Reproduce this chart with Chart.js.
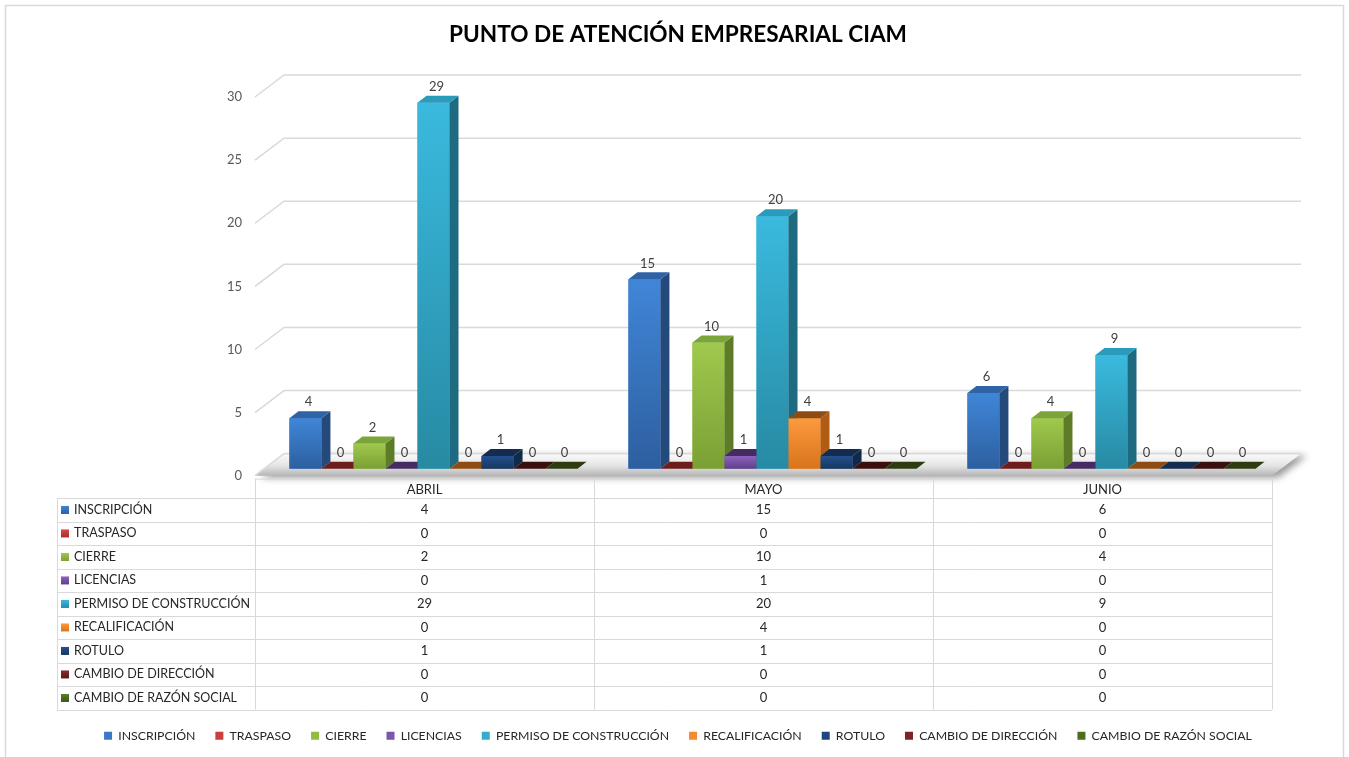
<!DOCTYPE html>
<html>
<head>
<meta charset="utf-8">
<title>Punto de Atención Empresarial CIAM</title>
<script src="https://cdn.jsdelivr.net/npm/chart.js@4.4.1/dist/chart.umd.min.js"></script>
<style>
  html, body { margin: 0; padding: 0; background: #ffffff; }
  #wrap { width: 1349px; height: 757px; }
</style>
</head>
<body>
<div id="wrap"><canvas id="ciamChart" width="1349" height="757"></canvas></div>
<script>
// ==========================
// Data
// ==========================

const months = ["ABRIL", "MAYO", "JUNIO"];

const tramites = [
  "INSCRIPCIÓN",
  "TRASPASO",
  "CIERRE",
  "LICENCIAS",
  "PERMISO DE CONSTRUCCIÓN",
  "RECALIFICACIÓN",
  "ROTULO",
  "CAMBIO DE DIRECCIÓN",
  "CAMBIO DE RAZÓN SOCIAL",
];

const inscripcion = [4, 15, 6];
const traspaso = [0, 0, 0];
const cierre = [2, 10, 4];
const licencias = [0, 1, 0];
const permisoConstruccion = [29, 20, 9];
const recalificacion = [0, 4, 0];
const rotulo = [1, 1, 0];
const cambioDireccion = [0, 0, 0];
const cambioRazonSocial = [0, 0, 0];

const yTicks = [0, 5, 10, 15, 20, 25, 30];

// ==========================
// Colors
// ==========================

const baseColors = ["#3a78c8", "#cc3d3d", "#92bd44", "#7d55ad", "#33acd0", "#f68a2a", "#1e467c", "#7a2424", "#4f6d22"];
const lightColors = ["#4086d8", "#d84a4a", "#a0c94e", "#8e63c0", "#3abade", "#fc9a3e", "#235090", "#8a2c2c", "#5e7f2a"];
const darkColors = ["#2d5f9f", "#a33030", "#7aa034", "#5e3f86", "#278aa3", "#d8741c", "#17375f", "#5a1818", "#3c5418"];
const sideColors = ["#244a7c", "#7c2222", "#5e7c28", "#4a3068", "#1e6a80", "#b05c14", "#102a4a", "#451212", "#2f4212"];
const topColors = ["#2f63a6", "#6e1c1c", "#7ba53a", "#452a63", "#2b9bbb", "#8e4c14", "#132c50", "#3c0f0f", "#2c3c10"];

const DX = 9, DY = -7;      // profundidad de barra
const WX = 29, WY = -22;    // pared del fondo

const seriesData = [
  inscripcion, traspaso, cierre, licencias, permisoConstruccion,
  recalificacion, rotulo, cambioDireccion, cambioRazonSocial,
];

// ==========================
// 3D + tabla
// ==========================

const bars3d = {
  id: "bars3d",

  beforeDatasetsDraw(chart) {
    const { ctx, chartArea, scales } = chart;
    const y0 = scales.y.getPixelForValue(0);

    // piso
    ctx.save();
    ctx.beginPath();
    ctx.moveTo(chartArea.left, y0);
    ctx.lineTo(chartArea.left + WX, y0 + WY);
    ctx.lineTo(chartArea.right + WX, y0 + WY);
    ctx.lineTo(chartArea.right, y0);
    ctx.closePath();
    const g = ctx.createLinearGradient(0, y0 + WY, 0, y0);
    g.addColorStop(0, "#fbfbfb");
    g.addColorStop(0.55, "#e4e4e4");
    g.addColorStop(1, "#b5b5b5");
    ctx.shadowColor = "rgba(0,0,0,0.4)";
    ctx.shadowBlur = 7;
    ctx.shadowOffsetX = 6;
    ctx.shadowOffsetY = 2;
    ctx.fillStyle = g;
    ctx.fill();
    ctx.restore();

    // lineas de cuadricula
    ctx.save();
    ctx.strokeStyle = "#d9d9d9";
    ctx.lineWidth = 1.5;
    yTicks.forEach((v) => {
      const py = scales.y.getPixelForValue(v);
      ctx.beginPath();
      ctx.moveTo(chartArea.left, py);
      ctx.lineTo(chartArea.left + WX, py + WY);
      ctx.lineTo(chartArea.right + WX, py + WY);
      ctx.stroke();
    });
    ctx.restore();

    ctx.save();
    ctx.translate(DX, DY);
  },

  afterDatasetsDraw(chart) {
    const { ctx } = chart;

    months.forEach((m, i) => {
      chart.data.datasets.forEach((ds, d) => {
        const bar = chart.getDatasetMeta(d).data[i];
        const { x, y, base, width } = bar.getProps(["x", "y", "base", "width"], true);
        const l = x - width / 2;
        const r = x + width / 2;

        if (base - y > 0.5) {
          const g = ctx.createLinearGradient(0, y, 0, base);
          g.addColorStop(0, lightColors[d]);
          g.addColorStop(1, darkColors[d]);
          ctx.fillStyle = g;
          ctx.fillRect(l, y, width, base - y);

          ctx.beginPath();
          ctx.moveTo(r, y);
          ctx.lineTo(r + DX, y + DY);
          ctx.lineTo(r + DX, base + DY);
          ctx.lineTo(r, base);
          ctx.closePath();
          ctx.fillStyle = sideColors[d];
          ctx.fill();
        }

        ctx.beginPath();
        ctx.moveTo(l, y);
        ctx.lineTo(l + DX, y + DY);
        ctx.lineTo(r + DX, y + DY);
        ctx.lineTo(r, y);
        ctx.closePath();
        ctx.fillStyle = topColors[d];
        ctx.fill();
      });
    });

    // etiquetas de datos
    ctx.font = "13px Lato";
    ctx.fillStyle = "#404040";
    ctx.textAlign = "center";
    ctx.textBaseline = "middle";
    chart.data.datasets.forEach((ds, d) => {
      chart.getDatasetMeta(d).data.forEach((bar, i) => {
        const { x, y } = bar.getProps(["x", "y"], true);
        ctx.fillText(String(ds.data[i]), x + 3, y - 16);
      });
    });

    ctx.restore();
  },

  afterDraw(chart) {
    const { ctx, scales } = chart;
    const xs = scales.x;
    const colW = xs.width / months.length;
    const top = chart.chartArea.bottom + 3;
    const headH = 19.5;
    const rowH = 23.5;
    const labelLeft = 57;
    const bottom = top + headH + rowH * tramites.length;

    ctx.save();
    ctx.strokeStyle = "#d9d9d9";
    ctx.lineWidth = 1;

    // horizontales
    ctx.beginPath();
    ctx.moveTo(xs.left, top + 0.5);
    ctx.lineTo(xs.right, top + 0.5);
    for (let r = 0; r <= tramites.length; r++) {
      const py = Math.round(top + headH + r * rowH) + 0.5;
      ctx.moveTo(labelLeft, py);
      ctx.lineTo(xs.right, py);
    }
    // verticales
    ctx.moveTo(labelLeft + 0.5, top + headH);
    ctx.lineTo(labelLeft + 0.5, bottom);
    for (let c = 0; c <= months.length; c++) {
      const px = Math.round(xs.left + c * colW) + 0.5;
      ctx.moveTo(px, top);
      ctx.lineTo(px, bottom);
    }
    ctx.stroke();

    ctx.textBaseline = "middle";
    ctx.font = "13px Lato";
    ctx.fillStyle = "#262626";
    ctx.textAlign = "center";
    months.forEach((m, c) => {
      ctx.fillText(m, xs.left + (c + 0.5) * colW, top + headH / 2 + 1);
    });

    tramites.forEach((t, r) => {
      const cy = top + headH + (r + 0.5) * rowH;
      const g = ctx.createLinearGradient(0, cy - 4, 0, cy + 4);
      g.addColorStop(0, lightColors[r]);
      g.addColorStop(1, darkColors[r]);
      ctx.fillStyle = g;
      ctx.fillRect(61, cy - 4, 8, 8);

      ctx.fillStyle = "#262626";
      ctx.textAlign = "left";
      ctx.font = "12.5px Lato";
      ctx.fillText(t, 74, cy);

      ctx.textAlign = "center";
      ctx.font = "13px Lato";
      seriesData[r].forEach((v, c) => {
        ctx.fillText(String(v), xs.left + (c + 0.5) * colW, cy);
      });
    });

    // borde exterior
    ctx.strokeStyle = "#d9d9d9";
    ctx.lineWidth = 1.5;
    ctx.strokeRect(5.5, 5.5, 1338, 760);
    ctx.restore();
  },
};

// ==========================
// Chart
// ==========================

Chart.defaults.font.family = "Lato";

new Chart(document.getElementById("ciamChart"), {
  type: "bar",

  data: {
    labels: months,
    datasets: tramites.map((t, d) => ({
      label: t,
      data: seriesData[d],
      backgroundColor: baseColors[d],
      borderWidth: 0,
      categoryPercentage: 0.85,
      barPercentage: 1.0,
    })),
  },

  options: {
    responsive: false,
    animation: false,

    layout: {
      padding: { left: 84, right: 77, top: 8, bottom: 5 },
    },

    plugins: {
      title: {
        display: true,
        text: "PUNTO DE ATENCIÓN EMPRESARIAL CIAM",
        color: "#000000",
        font: { size: 22.6, weight: "bold" },
        padding: { top: 13.4, bottom: 48.5 },
      },
      legend: {
        position: "bottom",
        labels: {
          boxWidth: 8,
          boxHeight: 8,
          padding: 20,
          color: "#262626",
          font: { size: 12.3 },
        },
      },
      tooltip: { enabled: false },
    },

    scales: {
      x: {
        grid: { display: false },
        border: { display: false },
        ticks: { display: false },
        afterFit: (s) => { s.height = 234; },
      },
      y: {
        min: 0,
        max: 30,
        grid: { display: false },
        border: { display: false },
        ticks: {
          stepSize: 5,
          padding: 5,
          color: "#595959",
          font: { size: 13 },
        },
        afterFit: (s) => { s.width = 171; },
      },
    },
  },

  plugins: [bars3d],
});
</script>
</body>
</html>
